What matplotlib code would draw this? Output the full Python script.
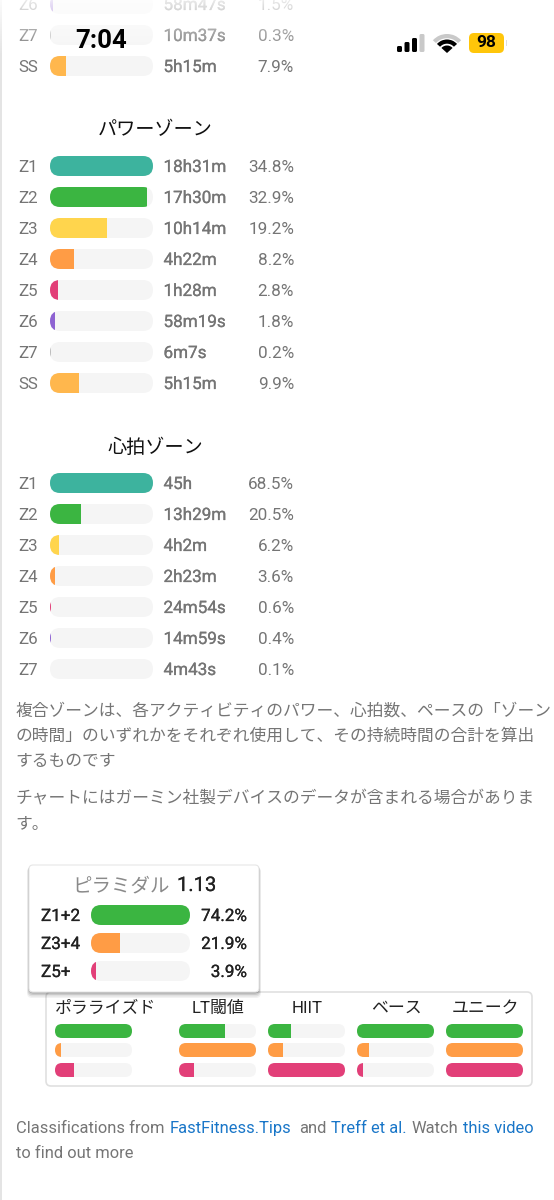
import numpy as np
import matplotlib
matplotlib.use("Agg")
import matplotlib.pyplot as plt
import matplotlib.patheffects as pe
from matplotlib.patches import FancyBboxPatch, Rectangle, Wedge

plt.rcParams['font.family'] = ['Roboto', 'Noto Sans CJK JP', 'DejaVu Sans']

# ---- data ----
top_zones = ["Z6", "Z7", "SS"]
top_times = ["58m47s", "10m37s", "5h15m"]
top_pct = [1.5, 0.3, 7.9]
top_scale_max = 51.0

power_title = "パワーゾーン"
power_zones = ["Z1", "Z2", "Z3", "Z4", "Z5", "Z6", "Z7", "SS"]
power_times = ["18h31m", "17h30m", "10h14m", "4h22m", "1h28m", "58m19s", "6m7s", "5h15m"]
power_pct = [34.8, 32.9, 19.2, 8.2, 2.8, 1.8, 0.2, 9.9]

hr_title = "心拍ゾーン"
hr_zones = ["Z1", "Z2", "Z3", "Z4", "Z5", "Z6", "Z7"]
hr_times = ["45h", "13h29m", "4h2m", "2h23m", "24m54s", "14m59s", "4m43s"]
hr_pct = [68.5, 20.5, 6.2, 3.6, 0.6, 0.4, 0.1]

note_lines_1 = ["複合ゾーンは、各アクティビティのパワー、心拍数、ペースの「ゾーン",
                "の時間」のいずれかをそれぞれ使用して、その持続時間の合計を算出",
                "するものです"]
note_lines_2 = ["チャートにはガーミン社製デバイスのデータが含まれる場合がありま", "す。"]

pyr_name = "ピラミダル"
pyr_value = "1.13"
pyr_labels = ["Z1+2", "Z3+4", "Z5+"]
pyr_pct = [74.2, 21.9, 3.9]

class_names = ["ポラライズド", "LT閾値", "HIIT", "ベース", "ユニーク"]
class_low = [100, 60, 30, 100, 100]
class_mid = [8, 100, 20, 16, 100]
class_high = [25, 20, 100, 8, 100]

status_time = "7:04"
battery_level = "98"

# ---- style ----
ZONE_COL = {"Z1": "#3db39e", "Z2": "#3bb541", "Z3": "#ffd54d", "Z4": "#ff9c45",
            "Z5": "#e23f78", "Z6": "#8e63d2", "Z7": "#bdbdbd", "SS": "#ffb74d"}
GROUP_COL = ["#3bb541", "#ff9c45", "#e23f78"]
TRACK = "#f5f5f5"
GREY = "#757575"
DARK = "#212121"
LINK = "#1976c8"

fig = plt.figure(figsize=(5.54, 12.0), dpi=100)
ax = fig.add_axes([0, 0, 1, 1])
ax.set_xlim(0, 554)
ax.set_ylim(1200, 0)
ax.axis("off")


def medium(t, c, lw=0.18):
    t.set_path_effects([pe.withStroke(linewidth=lw, foreground=c)])
    return t


def rrect(x0, y0, w, h, r, **kw):
    p = FancyBboxPatch((x0 + r, y0 + r), w - 2 * r, h - 2 * r,
                       boxstyle=f"round,pad={r},rounding_size={r}", **kw)
    ax.add_patch(p)
    return p


def bar(x0, yc, w, h, frac, color, z=2):
    t = rrect(x0, yc - h / 2, w, h, h / 2, fc=TRACK, ec="none", zorder=z)
    f = Rectangle((x0, yc - h / 2), w * frac, h, fc=color, ec="none", zorder=z + 0.1)
    ax.add_patch(f)
    f.set_clip_path(t)


def rows(y0, zones, times, pct, scale):
    for i, (zn, tm, pc) in enumerate(zip(zones, times, pct)):
        y = y0 + 31 * i
        ax.text(18, y, zn, fontsize=12.2, color=GREY, va="center_baseline", ha="left")
        bar(50, y, 103, 20, pc / scale, ZONE_COL[zn])
        medium(ax.text(163.5, y, tm, fontsize=12.3, color=GREY, va="center_baseline", ha="left"), GREY)
        ax.text(294, y, f"{pc:.1f}%", fontsize=12.3, color=GREY, va="center_baseline", ha="right")


# left gutter
ax.add_patch(Rectangle((0, 0), 2, 1200, fc="#e4e4e4", ec="none", zorder=1))

rows(4, top_zones, top_times, top_pct, top_scale_max)

ax.text(155, 130.5, power_title, fontsize=13.8, color="#111111", ha="center", va="center")
rows(166, power_zones, power_times, power_pct, max(power_pct))

ax.text(155, 447.5, hr_title, fontsize=13.8, color="#111111", ha="center", va="center")
rows(483, hr_zones, hr_times, hr_pct, max(hr_pct))

for y, line in zip([716, 741, 766], note_lines_1):
    ax.text(15.5, y, line, fontsize=12.05, color=GREY, ha="left", va="baseline")
for y, line in zip([803, 829], note_lines_2):
    ax.text(15.5, y, line, fontsize=12.05, color=GREY, ha="left", va="baseline")

# classification panel
rrect(46, 992, 486, 94, 5, fc="white", ec="#e0e0e0", lw=1.2, zorder=2)
for i, name in enumerate(class_names):
    x0 = [55, 179, 268, 357, 446][i]
    ax.text(x0 + 39 if i else 105.5, 1008.5, name, fontsize=12.2, color="#222222", ha="center", va="center", zorder=3)
    for y, vals, col in zip([1031, 1050, 1070], [class_low, class_mid, class_high], GROUP_COL):
        bar(x0, y, 77, 14, vals[i] / 100, col, z=3)

# pyramid card
for k, a in zip([4, 3, 2, 1], [0.05, 0.07, 0.10, 0.14]):
    rrect(29 - k / 2, 865 + k / 2, 230 + k, 127 + k, 5, fc="black", ec="none", alpha=a, zorder=4)
rrect(29, 865, 230, 127, 4, fc="white", ec="#e6e6e6", lw=0.8, zorder=5)
ax.text(170, 886, pyr_name, fontsize=14.0, color="#8a8a8a", ha="right", va="center", zorder=6)
medium(ax.text(177, 885.5, pyr_value, fontsize=14.5, color=DARK, ha="left", va="center", zorder=6), DARK)
for y, lab, pc, col in zip([915, 943, 971], pyr_labels, pyr_pct, GROUP_COL):
    medium(ax.text(41, y, lab, fontsize=12.3, color=DARK, ha="left", va="center_baseline", zorder=6), DARK)
    bar(91, y, 99, 20, pc / max(pyr_pct), col, z=6)
    medium(ax.text(247, y, f"{pc:.1f}%", fontsize=12.3, color=DARK, ha="right", va="center_baseline", zorder=6), DARK)

# footer
for x, s, c in [(16, "Classifications from", GREY), (170, "FastFitness.Tips", LINK), (299, "and", GREY),
                (331, "Treff et al.", LINK), (411, "Watch", GREY), (463, "this video", LINK)]:
    ax.text(x, 1133, s, fontsize=11.9, color=c, ha="left", va="baseline")
ax.text(16, 1158, "to find out more", fontsize=11.9, color=GREY, ha="left", va="baseline")

# status bar fade
grad = np.ones((60, 2, 4))
grad[:, :, 3] = np.clip(np.linspace(0.85, 0.0, 60), 0, 1)[:, None]
ax.imshow(grad, extent=(0, 554, 56, 0), aspect="auto", zorder=7, interpolation="bilinear")
ax.set_xlim(0, 554)
ax.set_ylim(1200, 0)

ax.text(101, 41, status_time, fontsize=18.5, color="black", weight="bold", ha="center", va="center", zorder=8)
for x, top, c in [(397, 46, "black"), (404.5, 42, "black"), (412, 38, "black"), (419.5, 34, "#c9c9c9")]:
    rrect(x, top, 5, 52 - top, 1.5, fc=c, ec="none", zorder=8)
for r, wd, c in [(19, 4.2, "#c9c9c9"), (13.5, 4.2, "black"), (7.5, 7.5, "black")]:
    ax.add_patch(Wedge((447, 53), r, 222, 318, width=wd, fc=c, ec="none", zorder=8))
rrect(469, 33, 35, 20, 5, fc="#ffc60a", ec="none", zorder=8)
ax.add_patch(Rectangle((505.5, 40), 1.2, 6, fc="#dddddd", ec="none", zorder=8))
ax.text(486.5, 42.5, battery_level, fontsize=12.5, color="black", weight="bold", ha="center", va="center", zorder=9)

fig.savefig("out.png", dpi=100)
